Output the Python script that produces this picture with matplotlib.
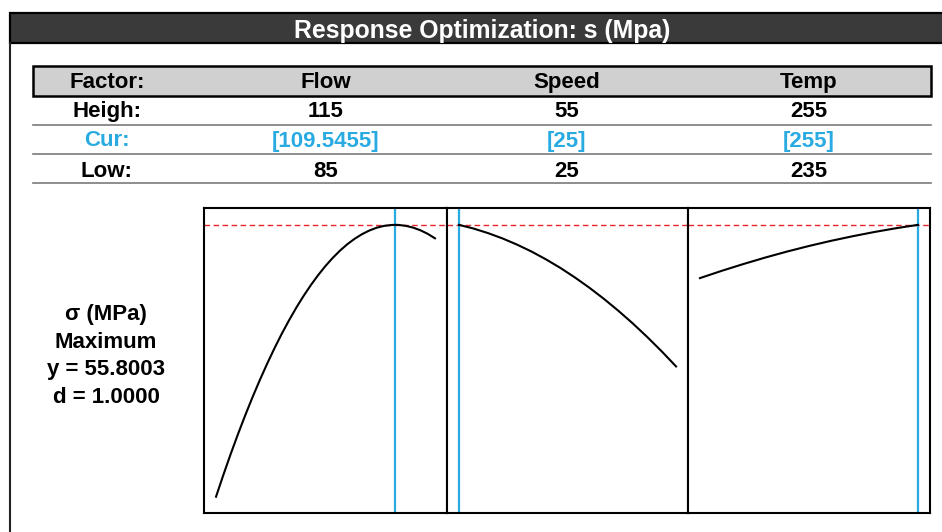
import matplotlib
matplotlib.use("Agg")
import matplotlib.pyplot as plt
from matplotlib.patches import Rectangle
from matplotlib.lines import Line2D

plt.rcParams['font.family'] = ['Liberation Sans', 'DejaVu Sans']

# factor settings
factors = ["Flow", "Speed", "Temp"]
high = [115, 55, 255]
cur = [109.5455, 25, 255]
low = [85, 25, 235]
y_opt = 55.8003
d_val = 1.0000

# response curves
flow_x = [85, 86, 87, 88, 89, 90, 91, 92, 93, 94, 95, 96, 97, 98, 99, 100, 101, 102, 103,
          104, 105, 106, 107, 108, 109, 109.5455, 110, 111, 112, 113, 114, 115]
flow_y = [20.01, 22.87, 25.61, 28.23, 30.73, 33.11, 35.37, 37.51, 39.54, 41.45, 43.23,
          44.90, 46.45, 47.88, 49.19, 50.39, 51.46, 52.42, 53.26, 53.97, 54.57, 55.05,
          55.42, 55.66, 55.78, 55.80, 55.79, 55.67, 55.44, 55.09, 54.62, 54.03]
speed_x = [25, 27, 29, 31, 33, 35, 37, 39, 41, 43, 45, 47, 49, 51, 53, 55]
speed_y = [55.80, 55.32, 54.72, 54.02, 53.21, 52.30, 51.27, 50.14, 48.89, 47.54, 46.08,
           44.51, 42.84, 41.05, 39.16, 37.16]
temp_x = [235, 237, 239, 241, 243, 245, 247, 249, 251, 253, 255]
temp_y = [48.79, 49.75, 50.65, 51.50, 52.29, 53.02, 53.69, 54.30, 54.86, 55.36, 55.80]

curves = [(flow_x, flow_y), (speed_x, speed_y), (temp_x, temp_y)]

W, H = 942, 532
fig = plt.figure(figsize=(W / 100, H / 100), dpi=100)


def fx(x):
    return x / W


def fy(y):
    return 1 - y / H


cyan = "#29abe2"

# title bar + outer frame
fig.add_artist(Rectangle((fx(9.5), fy(43)), fx(960 - 9.5), 30 / H, transform=fig.transFigure,
                         facecolor="#3a3a3a", edgecolor="black", lw=1.6, clip_on=False))
fig.add_artist(Line2D([fx(10), fx(10)], [fy(43), fy(540)], transform=fig.transFigure,
                      color="#222222", lw=1.5))
fig.text(fx(482), fy(38), "Response Optimization: s (Mpa)", color="white", fontsize=17.8,
         fontweight="bold", ha="center", va="baseline")

# factor table
fig.add_artist(Rectangle((fx(33), fy(96)), fx(931 - 33), 30 / H, transform=fig.transFigure,
                         facecolor="#d0d0d0", edgecolor="black", lw=1.8))
for yl in [125, 154, 183]:
    fig.add_artist(Line2D([fx(33), fx(931)], [fy(yl), fy(yl)], transform=fig.transFigure,
                          color="#7a7a7a", lw=1.2))

col_x = [326, 567, 809]
label_x = 107
rows = [
    ("Factor:", factors, 88, "black"),
    ("Heigh:", [str(v) for v in high], 117, "black"),
    ("Cur:", ["[%s]" % v for v in cur], 146.5, cyan),
    ("Low:", [str(v) for v in low], 176.5, "black"),
]
for lab, vals, base, col in rows:
    fig.text(fx(label_x), fy(base), lab, color=col, fontsize=16, fontweight="bold",
             ha="center", va="baseline")
    for cx, v in zip(col_x, vals):
        fig.text(fx(cx), fy(base), v, color=col, fontsize=16, fontweight="bold",
                 ha="center", va="baseline")

# response summary on the left
summary = ["σ (MPa)", "Maximum", "y = %.4f" % y_opt, "d = %.4f" % d_val]
for i, s in enumerate(summary):
    fig.text(fx(106), fy(320 + i * 27.6), s, fontsize=16, fontweight="bold",
             ha="center", va="baseline")

# optimization panels
edges = [204, 447, 688, 930]
ymin = min(min(c[1]) for c in curves)
ymax = max(max(c[1]) for c in curves)
yr = ymax - ymin
for i, (xs, ys) in enumerate(curves):
    ax = fig.add_axes([fx(edges[i]), fy(513), (edges[i + 1] - edges[i]) / W, (513 - 208) / H])
    xr = high[i] - low[i]
    ax.set_xlim(low[i] - 0.055 * xr, high[i] + 0.055 * xr)
    ax.set_ylim(ymin - 0.06 * yr, ymax + 0.062 * yr)
    ax.axhline(y_opt, color="#e8262a", lw=1.0, ls=(0, (4, 2.5)))
    ax.axvline(cur[i], color=cyan, lw=1.6)
    ax.plot(xs, ys, color="black", lw=1.5)
    ax.set_xticks([])
    ax.set_yticks([])
    for sp in ax.spines.values():
        sp.set_linewidth(1.5)

fig.savefig("out.png", dpi=100)
